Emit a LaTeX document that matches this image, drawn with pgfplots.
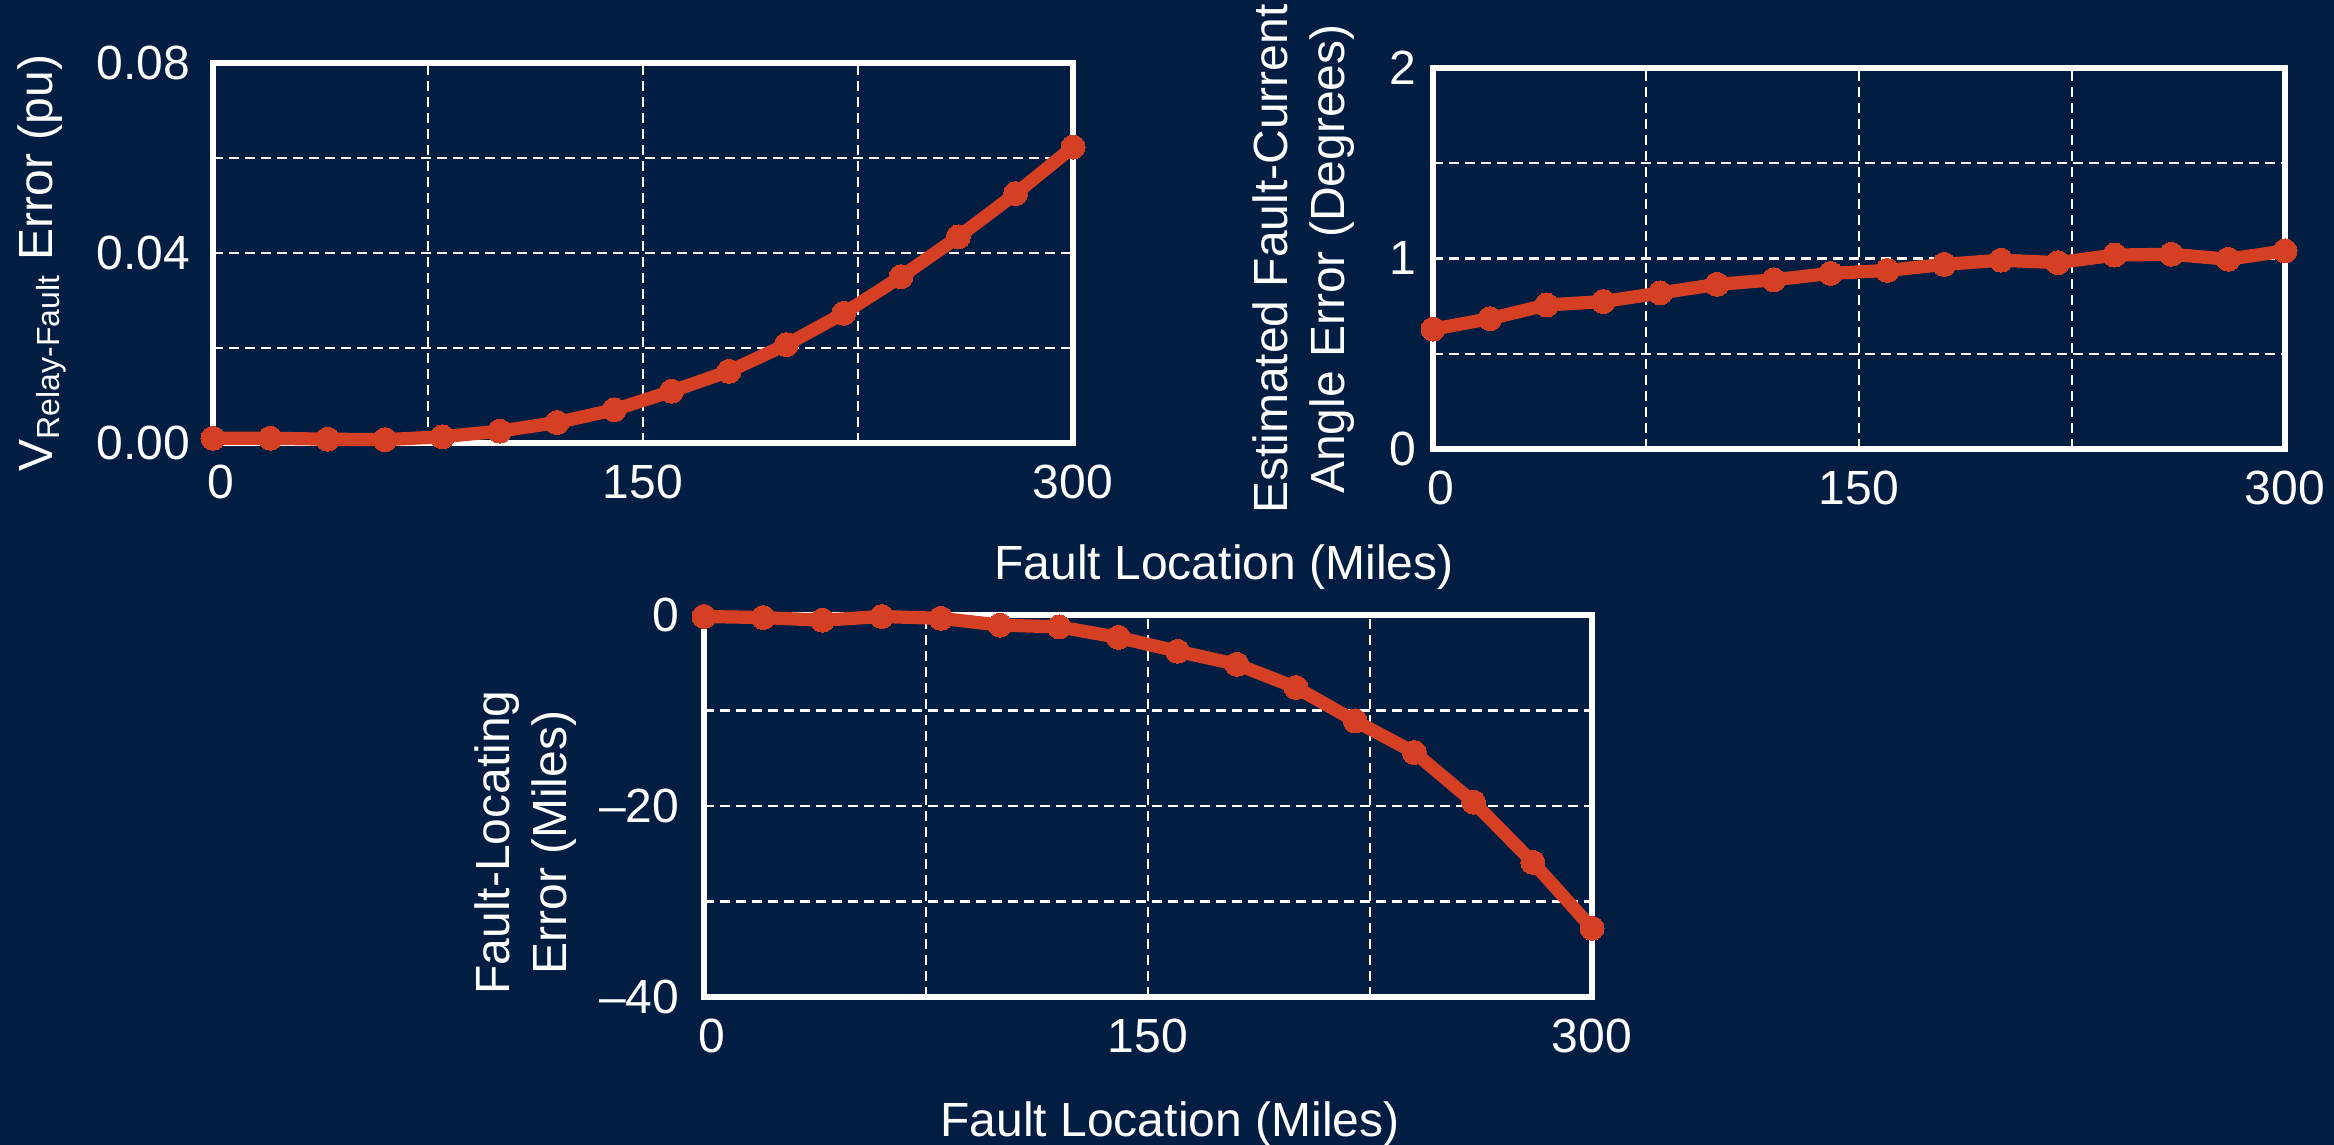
\documentclass[border=0pt]{standalone}
\usepackage{fontspec}
\setmainfont{Liberation Sans}
\usepackage{pgfplots}
\pgfplotsset{compat=1.18}
\definecolor{bg}{RGB}{1,30,66}
\definecolor{ln}{RGB}{213,63,36}
\pgfplotsset{
  myax/.style={
    scale only axis,
    anchor=south west,
    xmin=0, xmax=300,
    xtick={0,150,300},
    xticklabels={{\hspace*{4pt}0},150,300},
    minor xtick={75,225},
    scaled y ticks=false,
    grid=both,
    major grid style={white, line width=0.55pt, dash pattern=on 2.5pt off 1.5pt},
    minor grid style={white, line width=0.55pt, dash pattern=on 2.5pt off 1.5pt},
    axis line style={white, line width=1.3pt},
    major tick length=0pt, minor tick length=0pt,
    tick label style={white},
    xticklabel style={yshift=-1.2pt},
    clip=false,
  },
  myplot/.style={color=ln, line width=3.3pt, line join=round,
      mark=*, mark size=3pt, mark options={solid, fill=ln, draw=ln, line width=0pt}},
}
\pgfplotstableread{
x y
0 0.0010
20 0.0010
40 0.0008
60 0.0007
80 0.0013
100 0.0025
120 0.0043
140 0.0070
160 0.0109
180 0.0151
200 0.0207
220 0.0273
240 0.0350
260 0.0434
280 0.0525
300 0.0623
}\tvolt
\pgfplotstableread{
x y
0 0.629
20 0.684
40 0.756
60 0.774
80 0.819
100 0.864
120 0.888
140 0.922
160 0.937
180 0.969
200 0.991
220 0.978
240 1.018
260 1.022
280 0.996
300 1.040
}\tangle
\pgfplotstableread{
x y
0 -0.16
20 -0.27
40 -0.55
60 -0.16
80 -0.35
100 -1.06
120 -1.25
140 -2.35
160 -3.80
180 -5.17
200 -7.60
220 -11.1
240 -14.4
260 -19.6
280 -25.9
300 -32.8
}\tloc
\begin{document}
\fontsize{12}{14.4}\selectfont
\begin{tikzpicture}
\useasboundingbox (0,0) rectangle (583.5pt,286.25pt);
\fill[bg] (0,0) rectangle (583.5pt,286.25pt);

\begin{axis}[myax, at={(53.25pt,175.5pt)}, width=215pt, height=95pt,
  ymin=0, ymax=0.08, ytick={0,0.04,0.08}, yticklabels={0.00,0.04,0.08},
  minor ytick={0.02,0.06}, yticklabel style={xshift=-1.5pt}]
\addplot[myplot] table[x=x,y=y] {\tvolt};
\end{axis}

\begin{axis}[myax, at={(358.25pt,174pt)}, width=213pt, height=95.25pt,
  ymin=0, ymax=2, ytick={0,1,2}, yticklabels={0,1,2},
  minor ytick={0.5,1.5}]
\addplot[myplot] table[x=x,y=y] {\tangle};
\end{axis}

\begin{axis}[myax, at={(176pt,37pt)}, width=222pt, height=95.5pt,
  ymin=-40, ymax=0, ytick={-40,-20,0}, yticklabels={--40,--20,0},
  minor ytick={-30,-10}, yticklabel style={xshift=-2pt}]
\addplot[myplot] table[x=x,y=y] {\tloc};
\end{axis}

\node[white, rotate=90, anchor=base] at (13pt,220.5pt) {V\textsubscript{Relay-Fault} Error (pu)};
\node[white, rotate=90, anchor=base] at (321.75pt,221.5pt) {Estimated Fault-Current};
\node[white, rotate=90, anchor=base] at (336pt,221.5pt) {Angle Error (Degrees)};
\node[white, rotate=90, anchor=base] at (127.25pt,75.6pt) {Fault-Locating};
\node[white, rotate=90, anchor=base] at (141.5pt,75.6pt) {Error (Miles)};
\node[white, anchor=base] at (306pt,141.25pt) {Fault Location (Miles)};
\node[white, anchor=base] at (292.5pt,2pt) {Fault Location (Miles)};
\end{tikzpicture}
\end{document}
